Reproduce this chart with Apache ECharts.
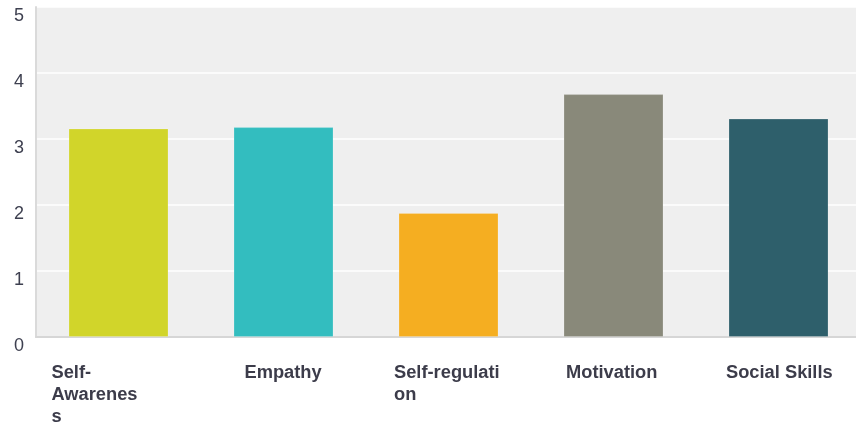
<!DOCTYPE html>
<html>
<head>
<meta charset="utf-8">
<script src="https://cdn.jsdelivr.net/npm/echarts@6/dist/echarts.min.js"></script>
<style>
  html, body { margin: 0; padding: 0; background: #ffffff; }
  #chart { width: 856px; height: 425px; }
</style>
</head>
<body>
<div id="chart"></div>
<script>
// Emotional intelligence competency scores (0-5 scale)
const categories = ['Self-Awareness', 'Empathy', 'Self-regulation', 'Motivation', 'Social Skills'];
const scores = [3.16, 3.18, 1.88, 3.68, 3.31];
const barColors = ['#d1d52a', '#33bdbf', '#f5ae21', '#89897a', '#2e5f6b'];
// Category labels as they wrap under each bar
const labelLines = [
  ['Self-', 'Awarenes', 's'],
  ['Empathy'],
  ['Self-regulati', 'on'],
  ['Motivation'],
  ['Social Skills']
];
const labelBoxWidths = [134, 78, 109, 95, 105];
const yTicks = [0, 1, 2, 3, 4, 5];

const rich = {};
labelBoxWidths.forEach((w, i) => {
  rich['l' + i] = {
    width: w,
    align: 'left',
    fontFamily: 'Liberation Sans, Arial, sans-serif',
    fontSize: 18.3,
    fontWeight: 'bold',
    color: '#3c3c4a',
    lineHeight: 22
  };
});

const chart = echarts.init(document.getElementById('chart'), null, { renderer: 'canvas' });
chart.setOption({
  animation: false,
  grid: {
    left: 36,
    top: 7,
    width: 825,
    height: 330,
    outerBoundsMode: 'none',
    show: true,
    backgroundColor: '#efefef',
    borderWidth: 0
  },
  xAxis: {
    type: 'category',
    data: categories,
    axisTick: { show: false },
    axisLine: { show: true, lineStyle: { color: '#d6d6d6', width: 2 } },
    axisLabel: {
      interval: 0,
      margin: 25,
      align: 'center',
      verticalAlign: 'top',
      formatter: (value, idx) => labelLines[idx].map(s => '{l' + idx + '|' + s + '}').join('\n'),
      rich: rich
    }
  },
  yAxis: {
    type: 'value',
    min: yTicks[0],
    max: yTicks[yTicks.length - 1],
    interval: 1,
    axisLine: { show: true, lineStyle: { color: '#dadada', width: 2 } },
    axisTick: { show: false },
    splitLine: { show: true, lineStyle: { color: '#ffffff', width: 1.5 } },
    axisLabel: {
      margin: 12,
      fontFamily: 'Liberation Sans, Arial, sans-serif',
      fontSize: 18,
      color: '#3e4050',
      verticalAlign: 'top',
      lineHeight: 18
    }
  },
  series: [{
    type: 'bar',
    barWidth: 100,
    data: scores.map((v, i) => ({
      value: v,
      itemStyle: { color: barColors[i], borderColor: 'rgba(255,255,255,0.2)', borderWidth: 1 }
    }))
  }]
});
</script>
</body>
</html>
